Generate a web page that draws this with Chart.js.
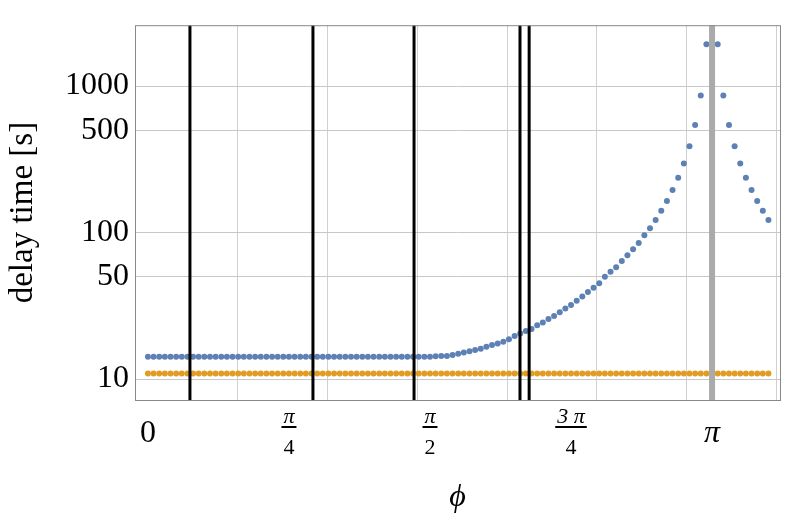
<!DOCTYPE html>
<html><head><meta charset="utf-8">
<script src="https://cdn.jsdelivr.net/npm/chart.js@4/dist/chart.umd.min.js"></script>
<style>body{margin:0;background:#fff}#w{width:789px;height:517px}</style>
</head><body><div id="w"><canvas id="c"></canvas></div>
<script>
const stepIndex = []; for (let k = 0; k <= 110; k++) if (k !== 100) stepIndex.push(k);
const blueValues = [
14.2,14.2,14.2,14.2,14.2,14.2,14.2,14.2,14.2,14.2,
14.2,14.2,14.2,14.2,14.2,14.2,14.2,14.2,14.2,14.2,
14.2,14.2,14.2,14.2,14.2,14.2,14.2,14.2,14.2,14.2,
14.2,14.2,14.2,14.2,14.2,14.2,14.2,14.2,14.2,14.2,
14.2,14.2,14.2,14.2,14.2,14.2,14.2,14.2,14.2,14.2,
14.2,14.3,14.4,14.4,14.6,14.9,15.2,15.5,15.8,16.1,
16.6,17.1,17.5,18.0,18.7,19.7,20.5,21.3,22.0,23.3,
24.3,25.7,27.0,28.6,30.3,32.0,34.3,36.6,39.3,42,
45,50,54,58,64,70,77,85,96,107,
122,141,164,195,237,296,388,542,863,1930,
1930,863,542,388,296,237,195,164,141,122];
const orangeValue = 10.9;
const markerLines = [0.234, 0.919, 1.482, 2.072, 2.123];
const piLine = Math.PI;
const xTickLabels = [[0,'0',null],[Math.PI/4,'π','4'],[Math.PI/2,'π','2'],[3*Math.PI/4,'3 π','4'],[Math.PI,'π',null]];
const yTickLabels = [10,50,100,500,1000];

const step = Math.PI/100;
const blue = stepIndex.map((k,i)=>({x:k*step,y:blueValues[i]}));
const orange = stepIndex.map(k=>({x:k*step,y:orangeValue}));
const vline = (x,c,w)=>({type:'line',data:[{x,y:5},{x,y:4000}],borderColor:c,borderWidth:w,pointRadius:0,showLine:true});
const datasets = [vline(piLine,'#aaaaaa',6)];
markerLines.forEach(x=>datasets.push(vline(x,'#000',3)));
datasets.push({type:'scatter',data:orange,backgroundColor:'#E19C24',pointRadius:3,borderWidth:0});
datasets.push({type:'scatter',data:blue,backgroundColor:'#5E81B5',pointRadius:3,borderWidth:0});

const serif = '"Liberation Serif","DejaVu Serif",serif';
const deco = {id:'deco',afterDraw(ch){
  const c=ch.ctx,a=ch.chartArea,xs=ch.scales.x;
  c.save();c.strokeStyle='#888';c.lineWidth=1;
  c.strokeRect(a.left+0.5,a.top+0.5,a.right-a.left,a.bottom-a.top);
  c.fillStyle='#000';c.textAlign='center';c.textBaseline='alphabetic';
  xTickLabels.forEach(([v,n,d])=>{
    const px=xs.getPixelForValue(v);
    if(d===null){c.font=(n==='0'?'':'italic ')+'32px '+serif;c.fillText(n,px,a.bottom+42);}
    else{c.font='italic 22px '+serif;c.fillText(n,px,a.bottom+23);
      const w=c.measureText(n).width+4;c.fillRect(px-w/2,a.bottom+26,w,2);
      c.font='22px '+serif;c.fillText(d,px,a.bottom+54);}
  });
  c.font='italic 32px '+serif;c.fillText('ϕ',(a.left+a.right)/2,a.bottom+106);
  c.restore();
}};
new Chart(document.getElementById('c'),{
  data:{datasets},
  plugins:[deco],
  options:{responsive:true,maintainAspectRatio:false,animation:false,
    layout:{padding:{top:-22,right:9,left:0,bottom:0}},
    plugins:{legend:{display:false},tooltip:{enabled:false}},
    scales:{
      x:{type:'linear',min:-0.072,max:3.52,
        afterBuildTicks(s){s.ticks=[0.5,1,1.5,2,2.5,3,3.5].map(v=>({value:v}));},
        afterFit(s){s.height=117;},
        ticks:{display:false},
        grid:{color:'#d0d0d0',lineWidth:1,drawTicks:false},border:{display:false}},
      y:{type:'logarithmic',min:7.2,max:2600,
        afterBuildTicks(s){s.ticks=yTickLabels.map(v=>({value:v}));},
        afterFit(s){s.width=135;},
        ticks:{font:{family:serif,size:32},color:'#000',padding:6,callback:v=>String(v)},
        grid:{color:'#c8c8c8',drawTicks:false},border:{display:false},
        title:{display:true,text:'delay time [s]',font:{family:serif,size:33},color:'#000',padding:{bottom:2}}}
    }}
});
</script></body></html>
